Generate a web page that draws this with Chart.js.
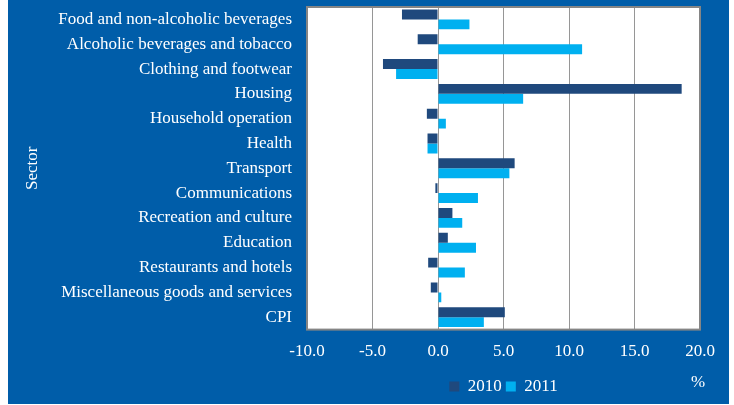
<!DOCTYPE html>
<html lang="en">

<head>
    <meta charset="UTF-8">
    <title>CPI by sector</title>
    <style>
        html,
        body {
            margin: 0;
            padding: 0;
            background: #fff;
        }
    </style>
</head>

<body>
    <canvas id="canvas" width="734" height="405"></canvas>

    <script src="https://cdnjs.cloudflare.com/ajax/libs/Chart.js/4.4.1/chart.umd.js"></script>

    <script>
        const sectors = [
            'Food and non-alcoholic beverages',
            'Alcoholic beverages and tobacco',
            'Clothing and footwear',
            'Housing',
            'Household operation',
            'Health',
            'Transport',
            'Communications',
            'Recreation and culture',
            'Education',
            'Restaurants and hotels',
            'Miscellaneous goods and services',
            'CPI'
        ];
        const values2010 = [-2.75, -1.55, -4.2, 18.6, -0.85, -0.8, 5.85, -0.2, 1.1, 0.75, -0.75, -0.55, 5.1];
        const values2011 = [2.4, 11.0, -3.2, 6.5, 0.6, -0.8, 5.45, 3.05, 1.85, 2.9, 2.05, 0.25, 3.5];
        const unitLabel = '%';

        const blue = '#005DA9';
        const family = "'Liberation Serif', 'Times New Roman', serif";

        // blue frame + white plot area + grey border + unit label
        const frame = {
            id: 'frame',
            beforeDraw(chart) {
                const { ctx, chartArea: a } = chart;
                ctx.save();
                ctx.fillStyle = '#fff';
                ctx.fillRect(0, 0, chart.width, chart.height);
                ctx.fillStyle = blue;
                ctx.fillRect(8, 0, 721, 404);
                ctx.fillStyle = '#fff';
                ctx.fillRect(a.left, a.top, a.right - a.left, a.bottom - a.top);
                ctx.restore();
            },
            afterDraw(chart) {
                const { ctx, chartArea: a } = chart;
                ctx.save();
                ctx.strokeStyle = '#858585';
                ctx.lineWidth = 2;
                ctx.strokeRect(a.left, a.top, a.right - a.left, a.bottom - a.top);
                ctx.fillStyle = '#fff';
                ctx.font = `17px ${family}`;
                ctx.textAlign = 'center';
                ctx.textBaseline = 'middle';
                ctx.fillText(unitLabel, a.right - 2, a.bottom + 53);
                ctx.restore();
            }
        };

        Chart.defaults.color = '#fff';
        Chart.defaults.font.family = family;
        Chart.defaults.font.size = 17;

        new Chart(document.querySelector('#canvas'), {
            type: 'bar',
            data: {
                labels: sectors,
                datasets: [{
                    label: '2010',
                    data: values2010,
                    backgroundColor: '#1F497D'
                },
                {
                    label: '2011',
                    data: values2011,
                    backgroundColor: '#00B0F0'
                }]
            },
            options: {
                indexAxis: 'y',
                responsive: false,
                animation: false,
                categoryPercentage: 0.8,
                barPercentage: 1.0,
                layout: {
                    padding: { top: 7, left: 8, right: 34, bottom: 0 }
                },
                scales: {
                    x: {
                        min: -10,
                        max: 20,
                        ticks: {
                            stepSize: 5,
                            padding: 12,
                            callback: (v) => v.toFixed(1)
                        },
                        grid: { color: '#969696', drawTicks: false },
                        border: { display: false }
                    },
                    y: {
                        ticks: { padding: 15, autoSkip: false },
                        grid: { display: false, drawTicks: false },
                        border: { display: false },
                        title: {
                            display: true,
                            text: 'Sector',
                            padding: { top: 14, bottom: 0 }
                        },
                        afterFit: (s) => {
                            s.width = 299;
                            s.paddingTop = 0;
                            s.paddingBottom = 0;
                        }
                    }
                },
                plugins: {
                    legend: {
                        position: 'bottom',
                        fullSize: false,
                        labels: { boxWidth: 10, boxHeight: 10, padding: 4 }
                    },
                    tooltip: { enabled: false }
                }
            },
            plugins: [frame]
        });
    </script>
</body>

</html>
